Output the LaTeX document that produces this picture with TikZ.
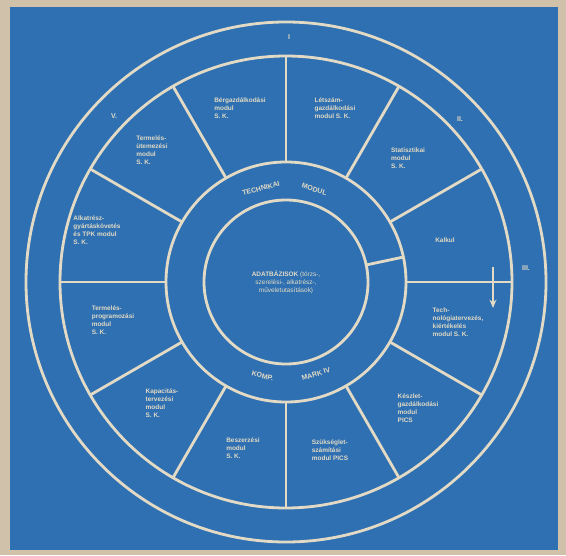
\documentclass[tikz,border=0pt]{standalone}
\usepackage{fontspec}
\setsansfont{Liberation Sans}
\usetikzlibrary{arrows.meta,positioning,calc}
\definecolor{plateblue}{RGB}{46,112,178}
\definecolor{chalk}{RGB}{226,218,196}
\definecolor{paper}{RGB}{208,194,170}

\begin{document}
\begin{tikzpicture}[
  >=Stealth,
  every node/.style={font=\sffamily\bfseries\fontsize{4.6}{5.6}\selectfont, text=chalk},
  ring/.style={draw=chalk, line width=2pt, circle, inner sep=0pt, outer sep=0pt},
  spoke/.style={draw=chalk, line width=2pt},
  seg/.style={align=left},
  bandtxt/.style={font=\sffamily\bfseries\fontsize{5}{6}\selectfont},
  num/.style={font=\sffamily\bfseries\fontsize{5}{6}\selectfont}
]
%% Plate
\fill[paper] (0,0) rectangle (14.15,13.875);
\fill[plateblue] (0.25,0.125) rectangle (13.95,13.7);

%% Rings
\coordinate (c) at (7.15,6.825);
\node[ring, minimum size=13.0cm] (outer) at (c) {};
\node[ring, minimum size=11.3cm] (ringB) at (c) {};
\node[ring, minimum size=6.0cm]  (band)  at (c) {};
\node[ring, minimum size=4.1cm, align=center] (db) at (c)
  {ADATBÁZISOK {\mdseries (törzs-,}\\{\mdseries szerelési-, alkatrész-,}\\{\mdseries műveletutasítások)}};

%% Spokes
\draw[spoke] (band.90)  -- (ringB.90);
\draw[spoke] (band.60)  -- (ringB.60);
\draw[spoke] (band.30)  -- (ringB.30);
\draw[spoke] (band.0)   -- (ringB.0);
\draw[spoke] (band.-30) -- (ringB.-30);
\draw[spoke] (band.-60) -- (ringB.-60);
\draw[spoke] (band.-90) -- (ringB.-90);
\draw[spoke] (band.-120) -- (ringB.-120);
\draw[spoke] (band.-150) -- (ringB.-150);
\draw[spoke] (band.180) -- (ringB.180);
\draw[spoke] (band.150) -- (ringB.150);
\draw[spoke] (band.120) -- (ringB.120);
\draw[spoke] (db.12)    -- (band.12);

%% Arrow on the right spoke
\coordinate (atop) at (12.325,7.2);
\coordinate (abot) at (12.325,6.175);
\draw[chalk, line width=2pt, -{Stealth[length=6pt,width=5pt]}] (atop) -- (abot);

%% Band labels
\node[bandtxt, rotate=15]  (tech) at ($(c)+(105:2.42)$) {TECHNIKAI};
\node[bandtxt, rotate=-17] (modl) at ($(c)+(73:2.42)$)  {MODUL};
\node[bandtxt, rotate=-14] (komp) at ($(c)+(256:2.42)$) {KOMP.};
\node[bandtxt, rotate=18]  (mark) at ($(c)+(288:2.42)$) {MARK IV};

%% Module labels
\node[seg] (ber)  at (6.0,11.175)  {Bérgazdálkodási\\modul\\S. K.};
\node[seg] (let)  at (8.375,11.175) {Létszám-\\gazdálkodási\\modul S. K.};
\node[seg] (stat) at (10.2,9.925)  {Statisztikai\\modul\\S. K.};
\node[seg] (kalk) at (11.125,7.875) {Kalkul};
\node[seg] (tech2) at (11.45,5.825) {Tech-\\nológiatervezés,\\kiértékelés\\modul S. K.};
\node[seg] (kesz) at (10.45,3.675) {Készlet-\\gazdálkodási\\modul\\PICS};
\node[seg] (szuk) at (8.25,2.625)  {Szükséglet-\\számítási\\modul PICS};
\node[seg] (besz) at (6.075,2.675) {Beszerzési\\modul\\S. K.};
\node[seg] (kap)  at (4.05,3.8)    {Kapacitás-\\tervezési\\modul\\S. K.};
\node[seg] (tprg) at (2.825,5.875) {Termelés-\\programozási\\modul\\S. K.};
\node[seg] (alk)  at (2.425,8.125) {Alkatrész-\\gyártáskövetés\\és TPK modul\\S. K.};
\node[seg] (tut)  at (3.8,10.125)  {Termelés-\\ütemezési\\modul\\S. K.};

%% Numerals
\node[num] (n1) at (7.225,12.95) {I};
\node[num] (n2) at (11.5,10.9)   {II.};
\node[num] (n3) at (13.15,7.175) {III.};
\node[num] (n5) at (2.85,10.975) {V.};
\end{tikzpicture}
\end{document}
